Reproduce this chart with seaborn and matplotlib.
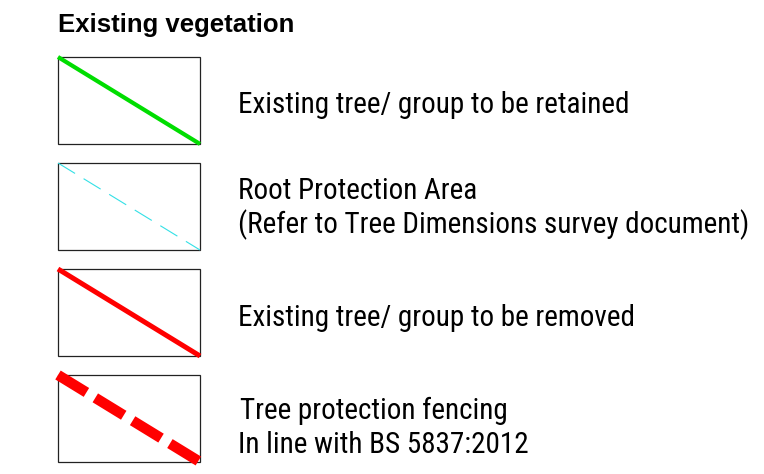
import matplotlib
matplotlib.use("Agg")
import matplotlib.pyplot as plt
from matplotlib.patches import Rectangle
import seaborn as sns
import pandas as pd

# Legend content
title = "Existing vegetation"
labels = [
    ["Existing tree/ group to be retained"],
    ["Root Protection Area", "(Refer to Tree Dimensions survey document)"],
    ["Existing tree/ group to be removed"],
    ["Tree protection fencing", "In line with BS 5837:2012"],
]
line_colors = ["#00dd00", "#33e0e6", "#ff0000", "#ff0000"]
line_widths = [3.0, 0.8, 3.6, 7.5]
line_dashes = [None, (18, 9), None, (3.2, 1.0)]

sns.set_style("white")
plt.rcParams["font.family"] = ["Liberation Sans", "DejaVu Sans"]
body_font = ["Roboto Condensed", "Liberation Sans", "DejaVu Sans"]

fig = plt.figure(figsize=(7.64, 4.74), dpi=100)
ax = fig.add_axes([0, 0, 1, 1])

ax.text(58, 32, title, fontsize=18.5, fontweight="bold", ha="left", va="baseline",
        color="black")

box_x, box_w, box_h = 58, 142, 87
text_offset = [56, 36, 57, 44]
for i, lines in enumerate(labels):
    top = 57 + i * 106
    ax.add_patch(Rectangle((box_x, top), box_w, box_h, fill=False,
                           edgecolor="#222222", linewidth=0.9))
    seg = pd.DataFrame({"x": [box_x, box_x + box_w], "y": [top, top + box_h]})
    kw = dict(color=line_colors[i], linewidth=line_widths[i], solid_capstyle="butt")
    if line_dashes[i] is not None:
        kw["dashes"] = line_dashes[i]
    sns.lineplot(data=seg, x="x", y="y", ax=ax, sort=False, **kw)
    base = top + text_offset[i]
    for k, s in enumerate(lines):
        tx = 240 if i == 3 and k == 0 else 238
        ax.text(tx, base + k * 34, s, fontsize=21, ha="left", va="baseline",
                family=body_font, color="black")

ax.set_xlim(0, 764)
ax.set_ylim(474, 0)
ax.axis("off")
fig.savefig("out.png", dpi=100)
